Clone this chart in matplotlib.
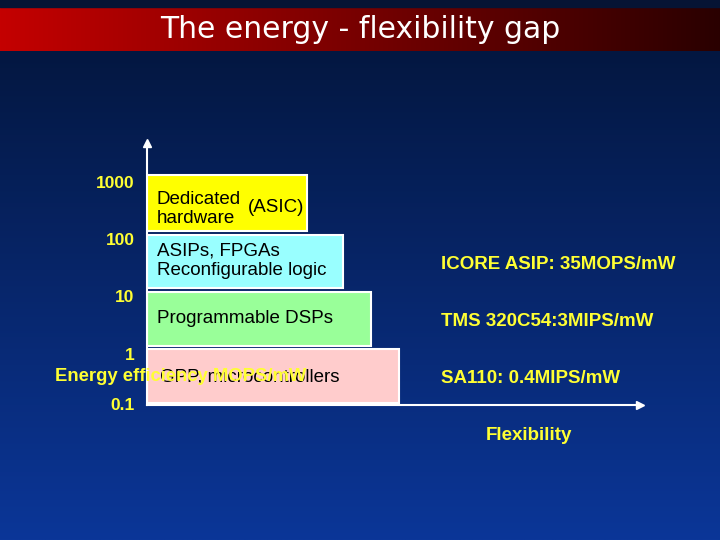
import matplotlib
matplotlib.use("Agg")
import matplotlib.pyplot as plt
import matplotlib.transforms as mtransforms
import numpy as np

# ── Palette ────────────────────────────────────────────────────────────────
YELLOW_TXT = "#ffff33"
BOX_COLORS = ["#ffcccc", "#99ff99", "#99ffff", "#ffff00"]

# ── Data ───────────────────────────────────────────────────────────────────
# energy efficiency bands (MOPS/mW), one decade per implementation style
band_lo = [0.1, 1, 10, 100]
band_hi = [1, 10, 100, 1000]
flex_width = [252, 224, 196, 160]          # relative flexibility (box length)
band_labels = ["GPP, microcontrollers", "Programmable DSPs",
               "ASIPs, FPGAs\nReconfigurable logic", "Dedicated\nhardware"]
examples = ["SA110: 0.4MIPS/mW", "TMS 320C54:3MIPS/mW",
            "ICORE ASIP: 35MOPS/mW", ""]
yticks = [0.1, 1, 10, 100, 1000]
ytick_labels = ["0.1", "1", "10", "100", "1000"]

fig = plt.figure(figsize=(7.2, 5.4), dpi=100)

# ── Slide background ───────────────────────────────────────────────────────
bg = fig.add_axes([0, 0, 1, 1])
top = np.array([0x03, 0x14, 0x38]) / 255
bot = np.array([0x0b, 0x36, 0x98]) / 255
t = np.linspace(0, 1, 256)[:, None, None]
grad = top + (bot - top) * t
bg.imshow(np.repeat(grad, 2, axis=1), extent=[0, 720, 540, 0], aspect="auto")
bg.fill_between([0, 720], 0, 7, color="#061434")
left = np.array([0xc4, 0x00, 0x00]) / 255
right = np.array([0x2a, 0x00, 0x00]) / 255
s = np.linspace(0, 1, 256)[None, :, None]
bar_grad = left + (right - left) * s
bg.imshow(np.repeat(bar_grad, 2, axis=0), extent=[0, 720, 51, 7], aspect="auto")
bg.set_xlim(0, 720)
bg.set_ylim(540, 0)
bg.axis("off")
bg.text(360, 30, "The energy - flexibility gap", color="white", fontsize=21.5,
        ha="center", va="center", family="DejaVu Sans")

# ── Chart ──────────────────────────────────────────────────────────────────
decade_px = 57.25
ax = fig.add_axes([147 / 720, 1 - 405 / 540, (640 - 147) / 720, (405 - 143) / 540])
ax.set_facecolor("none")
ax.set_yscale("log")
ax.set_xlim(0, 493)
ax.set_ylim(10 ** (-1 - 1 / decade_px), 10 ** (-1 + 261 / decade_px))

lo = np.array(band_lo) * 1.05
hi = np.array(band_hi) * 0.9
hi[-1] = band_hi[-1]
ax.bar(0, hi - lo, bottom=lo, width=flex_width, align="edge",
       color=BOX_COLORS, edgecolor="white", linewidth=1.5, zorder=2)

for l, h, lab, ex in zip(band_lo, band_hi, band_labels, examples):
    yc = np.sqrt(l * h)
    if l == 0.1:
        ax.text(13, yc * 0.95, lab, fontsize=13.5, color="black", ha="left",
                va="center", family="Liberation Sans", zorder=3)
    elif l == 100:
        ax.text(10, yc * 0.82, lab, fontsize=13.5, color="black", ha="left",
                va="center", family="Liberation Sans", linespacing=1.15, zorder=3)
        ax.text(101, yc * 0.85, "(ASIC)", fontsize=13.5, color="black", ha="left",
                va="center", family="Liberation Sans", zorder=3)
    else:
        ax.text(10, yc, lab, fontsize=13.5, color="black", ha="left",
                va="center", family="Liberation Sans", linespacing=1.22, zorder=3)
    if ex:
        ax.text(294, yc * 0.88, ex, fontsize=13.5, color=YELLOW_TXT, ha="left",
                va="center", fontweight="bold", family="Liberation Sans")

# garbled axis caption from the original slide, drawn over the lowest box
ax.text(-92, 0.3, "Energy efficiency MOPS/mW", color=YELLOW_TXT, fontsize=13.3,
        fontweight="bold", ha="left", va="center", family="Liberation Sans",
        zorder=5, clip_on=False)

ax.set_yticks(yticks)
ax.set_yticklabels(ytick_labels)
ax.yaxis.set_minor_locator(matplotlib.ticker.NullLocator())
ax.tick_params(axis="y", length=0, pad=9, labelsize=12.5, labelcolor=YELLOW_TXT)
for val, lbl in zip(yticks, ax.get_yticklabels()):
    dy = 0 if val == 0.1 else -7
    offset = mtransforms.ScaledTranslation(0, dy / 100, fig.dpi_scale_trans)
    lbl.set_fontweight("bold")
    lbl.set_family("Liberation Sans")
    lbl.set_transform(lbl.get_transform() + offset)
ax.set_xticks([])

for sp in ["top", "right"]:
    ax.spines[sp].set_visible(False)
for sp in ["left", "bottom"]:
    ax.spines[sp].set_color("white")
    ax.spines[sp].set_linewidth(1.5)

# arrow heads
ax.plot([0], [1], marker="^", color="white", markersize=6, transform=ax.transAxes,
        clip_on=False)
ax.plot([1], [0], marker=">", color="white", markersize=6, transform=ax.transAxes,
        clip_on=False)

ax.text(382, -0.115, "Flexibility", transform=ax.get_xaxis_transform(),
        fontsize=13.5, color=YELLOW_TXT, fontweight="bold", ha="center",
        va="center", family="Liberation Sans")

fig.savefig("out.png", dpi=100)
